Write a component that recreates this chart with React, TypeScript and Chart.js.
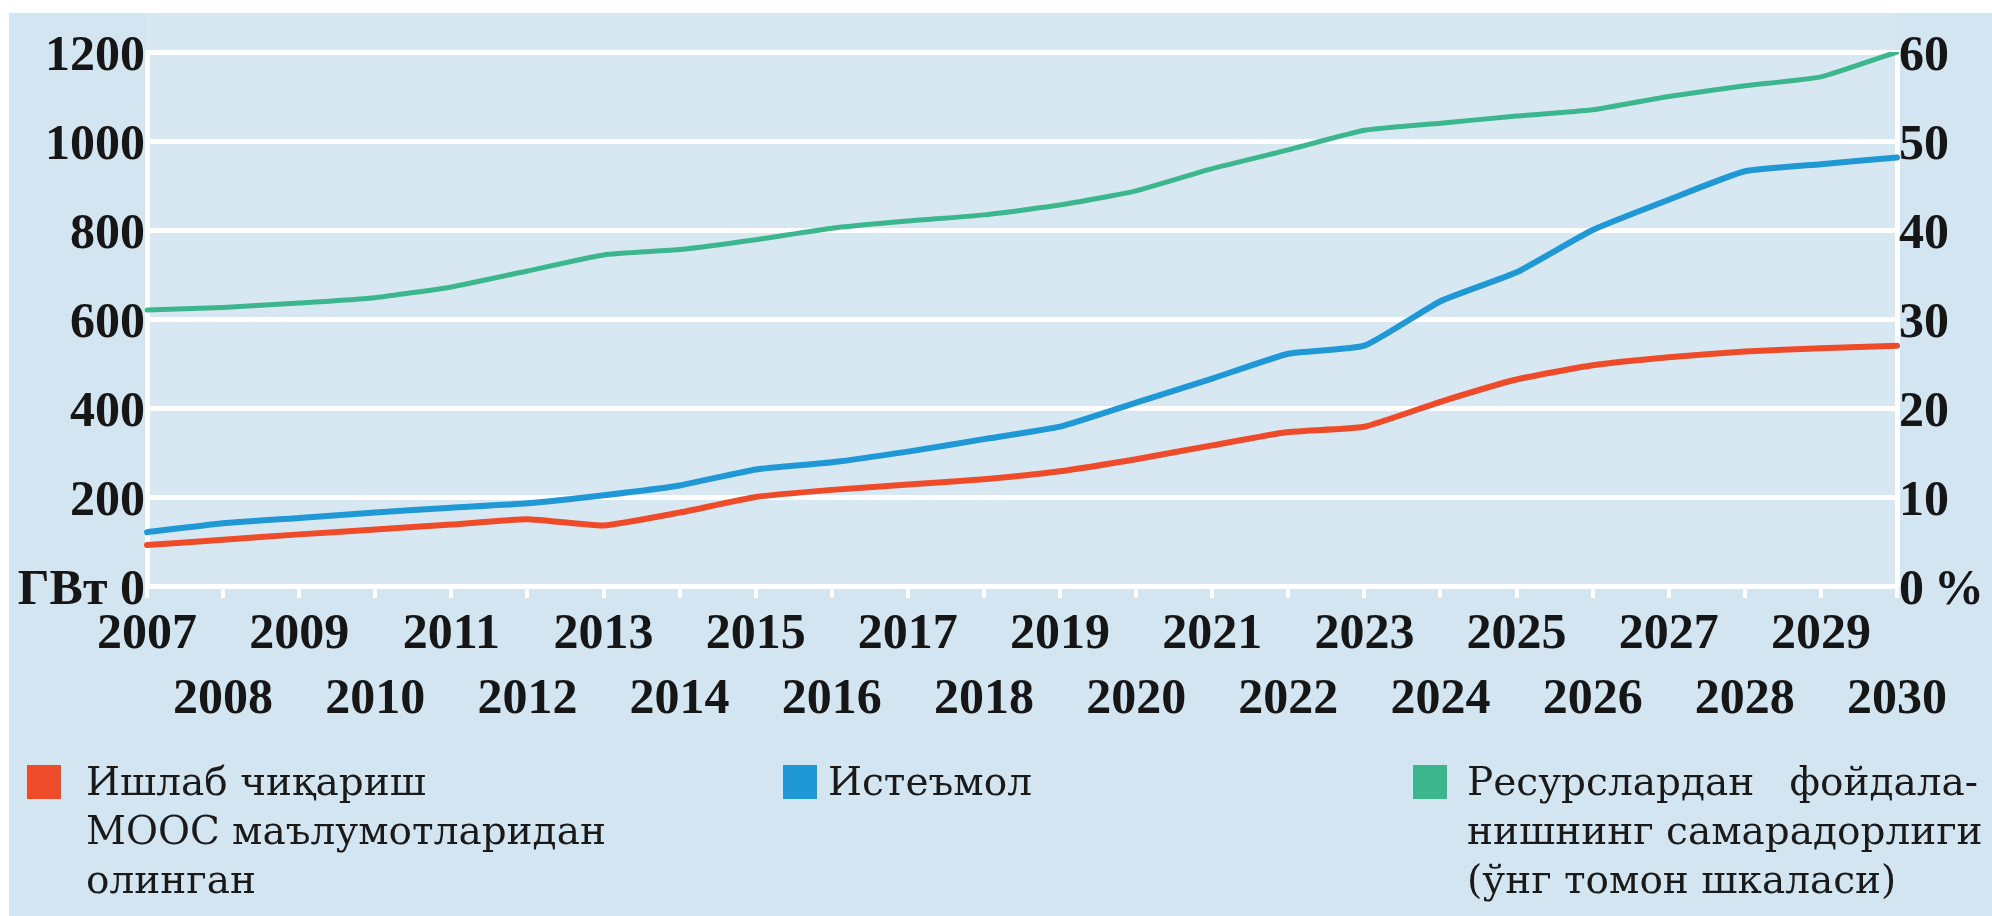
import React, { useEffect, useRef } from 'react';
import { Chart, registerables } from 'chart.js';

Chart.register(...registerables);

const years = ['2007','2008','2009','2010','2011','2012','2013','2014','2015','2016','2017','2018','2019','2020','2021','2022','2023','2024','2025','2026','2027','2028','2029','2030'];

// ГВт (left scale)
const production = [92,104,116,127,138,150,136,165,200,216,228,240,258,285,316,346,358,414,464,496,514,527,534,540];
const consumption = [121,141,153,165,176,186,204,226,262,278,302,330,358,412,466,522,540,640,705,800,868,932,948,963];
// % (right scale)
const efficiency = [31.0,31.3,31.8,32.4,33.6,35.4,37.2,37.8,38.9,40.2,41.0,41.7,42.8,44.4,46.9,49.0,51.2,52.0,52.8,53.5,55.0,56.2,57.2,60.0];

const seriesNames = ['Ишлаб чиқариш', 'Истеъмол', 'Ресурслардан фойдаланишнинг самарадорлиги'];
const legendLines = [
  ['Ишлаб чиқариш', 'МООС маълумотларидан', 'олинган'],
  ['Истеъмол'],
  ['Ресурслардан фойдала-', 'нишнинг самарадорлиги', '(ўнг томон шкаласи)'],
];

const RED = '#ee4b2b';
const BLUE = '#1f98d5';
const GREEN = '#3cb68c';

const tickFont = { family: "'Liberation Serif', serif", size: 50, weight: 'bold' as const, lineHeight: 1.3 };

const bgPlugin = {
  id: 'plotBg',
  beforeDraw(chart: any) {
    const { ctx, chartArea } = chart;
    ctx.save();
    ctx.fillStyle = '#d8e8f2';
    ctx.fillRect(chartArea.left, 13, chartArea.right - chartArea.left, chartArea.bottom - 13);
    ctx.restore();
  },
};

export default function App() {
  const ref = useRef<HTMLCanvasElement>(null);

  useEffect(() => {
    const chart = new Chart(ref.current as HTMLCanvasElement, {
      type: 'line',
      data: {
        labels: years,
        datasets: [
          { label: seriesNames[0], data: production, borderColor: RED, borderWidth: 6, pointRadius: 0, tension: 0.15, yAxisID: 'y', borderCapStyle: 'round', borderJoinStyle: 'round' },
          { label: seriesNames[1], data: consumption, borderColor: BLUE, borderWidth: 6, pointRadius: 0, tension: 0.15, yAxisID: 'y', borderCapStyle: 'round', borderJoinStyle: 'round' },
          { label: seriesNames[2], data: efficiency, borderColor: GREEN, borderWidth: 5, pointRadius: 0, tension: 0.15, yAxisID: 'y1', borderCapStyle: 'round', borderJoinStyle: 'round' },
        ],
      },
      options: {
        responsive: false,
        animation: false,
        devicePixelRatio: 1,
        layout: { padding: { top: 52, left: 0, right: 0, bottom: 0 } },
        plugins: { legend: { display: false }, tooltip: { enabled: false } },
        scales: {
          x: {
            offset: false,
            grid: { display: true, drawOnChartArea: false, color: '#ffffff', lineWidth: 4, tickLength: 12 },
            border: { display: false },
            ticks: {
              autoSkip: false,
              maxRotation: 0,
              minRotation: 0,
              padding: 5,
              color: '#161616',
              font: tickFont,
              callback: (_v: any, i: number) => (i % 2 === 0 ? [years[i]] : ['', years[i]]),
            },
            afterFit: (s: any) => { s.height = 330; },
          },
          y: {
            position: 'left',
            min: 0,
            max: 1200,
            ticks: {
              stepSize: 200,
              padding: 2,
              labelOffset: 5,
              color: '#161616',
              font: tickFont,
              callback: (v: any) => (v === 0 ? 'ГВт 0' : String(v)),
            },
            grid: { color: '#ffffff', lineWidth: 5, drawTicks: false },
            border: { display: true, color: '#ffffff', width: 5 },
            afterFit: (s: any) => { s.width = 147; },
          },
          y1: {
            position: 'right',
            min: 0,
            max: 60,
            ticks: {
              stepSize: 10,
              padding: 2,
              labelOffset: 5,
              color: '#161616',
              font: tickFont,
              callback: (v: any) => (v === 0 ? '0\u2009%' : String(v)),
            },
            grid: { drawOnChartArea: false, drawTicks: false },
            border: { display: true, color: '#ffffff', width: 5 },
            afterFit: (s: any) => { s.width = 95; },
          },
        },
      },
      plugins: [bgPlugin],
    });
    return () => chart.destroy();
  }, []);

  const legendFont: React.CSSProperties = {
    fontFamily: "'DejaVu Serif', serif",
    fontSize: 39,
    lineHeight: '49px',
    color: '#1a1a1a',
    whiteSpace: 'nowrap',
  };
  const items = [
    { color: RED, sq: 27, tx: 86, width: 460, justifyFirst: false },
    { color: BLUE, sq: 783, tx: 828, width: 300, justifyFirst: false },
    { color: GREEN, sq: 1413, tx: 1467, width: 511, justifyFirst: true },
  ];

  return (
    <div style={{ position: 'absolute', left: 0, top: 0, width: 1992, height: 916, overflow: 'hidden', background: '#ffffff' }}>
      <div style={{ position: 'absolute', left: 9, top: 13, right: 0, bottom: 0, background: '#d3e5f0' }} />
      <canvas ref={ref} width={1992} height={916} style={{ position: 'absolute', left: 0, top: 0, width: 1992, height: 916 }} />
      {items.map((it, k) => (
        <React.Fragment key={k}>
          <div style={{ position: 'absolute', left: it.sq, top: 765, width: 34, height: 34, background: it.color }} />
          <div style={{ position: 'absolute', left: it.tx, top: 757, width: it.width, ...legendFont }}>
            {legendLines[k].map((line, j) => (
              <div key={j} style={j === 0 && it.justifyFirst ? { textAlign: 'justify', textAlignLast: 'justify' } : {}}>{line}</div>
            ))}
          </div>
        </React.Fragment>
      ))}
    </div>
  );
}
